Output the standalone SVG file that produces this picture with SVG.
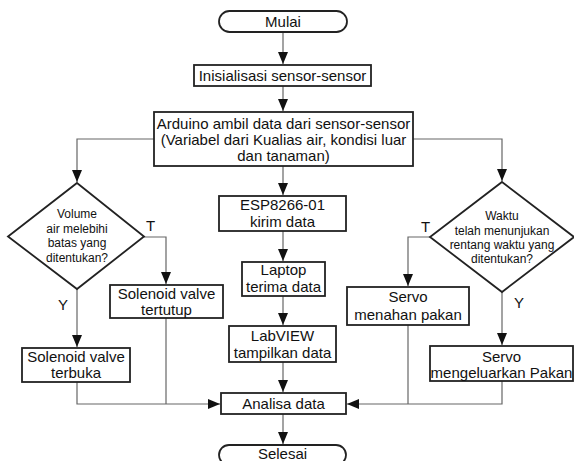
<svg xmlns="http://www.w3.org/2000/svg" width="574" height="461" viewBox="0 0 574 461">
<style>
.box{fill:#fff;stroke:#222;stroke-width:1.8}
.con{fill:none;stroke:#666;stroke-width:1.2}
.t{font-family:"Liberation Sans",Arial,sans-serif;font-size:15px;fill:#111;text-anchor:middle}
.d{font-family:"Liberation Sans",Arial,sans-serif;font-size:12px;fill:#111;text-anchor:middle}
.l{font-family:"Liberation Sans",Arial,sans-serif;font-size:15px;fill:#111}
</style>
<defs>
<marker id="ar" markerUnits="userSpaceOnUse" markerWidth="12" markerHeight="10" refX="12" refY="5" orient="auto">
<path d="M0,0 L12,5 L0,10 z" fill="#111"/>
</marker>
</defs>
<rect width="574" height="461" fill="#fff"/>
<g id="connectors">
<line class="con" x1="283" y1="32" x2="283" y2="64" marker-end="url(#ar)"/>
<line class="con" x1="283" y1="86" x2="283" y2="111" marker-end="url(#ar)"/>
<polyline class="con" points="154,139 77,139 77,182" marker-end="url(#ar)"/>
<polyline class="con" points="413,139 502,139 502,181" marker-end="url(#ar)"/>
<line class="con" x1="283" y1="166" x2="283" y2="195" marker-end="url(#ar)"/>
<line class="con" x1="283" y1="231" x2="283" y2="261" marker-end="url(#ar)"/>
<line class="con" x1="283" y1="296" x2="283" y2="325" marker-end="url(#ar)"/>
<line class="con" x1="283" y1="362" x2="283" y2="392" marker-end="url(#ar)"/>
<line class="con" x1="283" y1="414" x2="283" y2="444" marker-end="url(#ar)"/>
<polyline class="con" points="144,237 166,237 166,284" marker-end="url(#ar)"/>
<line class="con" x1="77" y1="289" x2="77" y2="347" marker-end="url(#ar)"/>
<polyline class="con" points="430,237 408,237 408,286" marker-end="url(#ar)"/>
<line class="con" x1="502" y1="292" x2="502" y2="345" marker-end="url(#ar)"/>
<polyline class="con" points="77,382 77,404 220,404" marker-end="url(#ar)"/>
<line class="con" x1="166" y1="318" x2="166" y2="404"/>
<polyline class="con" points="502,381 502,404 347,404" marker-end="url(#ar)"/>
<line class="con" x1="408" y1="325" x2="408" y2="404"/>
</g>
<g id="mulai">
<rect class="box" x="219" y="11" width="128" height="21" rx="10.5"/>
<text class="t" x="283" y="27">Mulai</text>
</g>
<g id="inisialisasi">
<rect class="box" x="194" y="65" width="177" height="21"/>
<text class="t" x="282.5" y="80.5">Inisialisasi sensor-sensor</text>
</g>
<g id="arduino">
<rect class="box" x="154" y="112" width="259" height="54"/>
<text class="t" x="283.5" y="129">Arduino ambil data dari sensor-sensor</text>
<text class="t" x="283.5" y="145">(Variabel dari Kualias air, kondisi luar</text>
<text class="t" x="283.5" y="161">dan tanaman)</text>
</g>
<g id="cek-volume">
<polygon class="box" points="77,183 144,236.5 77,289 8,236.5"/>
<text class="d" x="77" y="218">Volume</text>
<text class="d" x="77" y="232.5">air melebihi</text>
<text class="d" x="77" y="247">batas yang</text>
<text class="d" x="77" y="261.5">ditentukan?</text>
<text class="l" x="146" y="231">T</text>
<text class="l" x="58" y="310">Y</text>
</g>
<g id="cek-waktu">
<polygon class="box" points="502,182 574,237 502,292 430,237"/>
<text class="d" x="502" y="220">Waktu</text>
<text class="d" x="502" y="234.5">telah menunjukan</text>
<text class="d" x="502" y="248.5">rentang waktu yang</text>
<text class="d" x="502" y="262.5">ditentukan?</text>
<text class="l" x="421" y="232">T</text>
<text class="l" x="514" y="308">Y</text>
</g>
<g id="esp">
<rect class="box" x="219" y="196" width="127" height="35"/>
<text class="t" x="282.5" y="210">ESP8266-01</text>
<text class="t" x="282.5" y="227">kirim data</text>
</g>
<g id="laptop">
<rect class="box" x="242" y="262" width="83" height="34"/>
<text class="t" x="283.5" y="275">Laptop</text>
<text class="t" x="283.5" y="292">terima data</text>
</g>
<g id="labview">
<rect class="box" x="229" y="326" width="107" height="36"/>
<text class="t" x="282.5" y="341">LabVIEW</text>
<text class="t" x="282.5" y="358">tampilkan data</text>
</g>
<g id="solenoid-tertutup">
<rect class="box" x="110" y="285" width="113" height="33"/>
<text class="t" x="166.5" y="299">Solenoid valve</text>
<text class="t" x="166.5" y="315">tertutup</text>
</g>
<g id="solenoid-terbuka">
<rect class="box" x="22" y="348" width="108" height="34"/>
<text class="t" x="76" y="362">Solenoid valve</text>
<text class="t" x="76" y="378">terbuka</text>
</g>
<g id="servo-menahan">
<rect class="box" x="347" y="287" width="122" height="38"/>
<text class="t" x="408" y="302">Servo</text>
<text class="t" x="408" y="320">menahan pakan</text>
</g>
<g id="servo-mengeluarkan">
<rect class="box" x="430" y="346" width="143" height="35"/>
<text class="t" x="501.5" y="362">Servo</text>
<text class="t" x="501.5" y="378">mengeluarkan Pakan</text>
</g>
<g id="analisa">
<rect class="box" x="221" y="393" width="125" height="21"/>
<text class="t" x="283.5" y="409">Analisa data</text>
</g>
<g id="selesai">
<rect class="box" x="219" y="445" width="127" height="20" rx="10"/>
<text class="t" x="282.5" y="459">Selesai</text>
</g>
</svg>
